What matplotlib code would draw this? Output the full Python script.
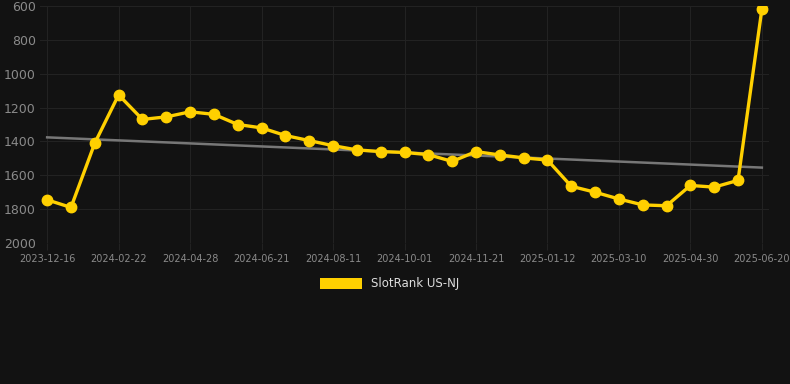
# SlotRank US-NJ rank history with trend line

import numpy as np
import matplotlib.pyplot as plt
from matplotlib.patches import Patch

tick_labels = ['2023-12-16', '2024-02-22', '2024-04-28', '2024-06-21', '2024-08-11',
               '2024-10-01', '2024-11-21', '2025-01-12', '2025-03-10', '2025-04-30',
               '2025-06-20']
ranks = [1745, 1790, 1410, 1125, 1270, 1255, 1225, 1240, 1300, 1320,
         1365, 1395, 1425, 1450, 1460, 1465, 1478, 1518, 1460, 1480,
         1497, 1510, 1665, 1700, 1740, 1775, 1780, 1660, 1670, 1630,
         620]
series_name = 'SlotRank US-NJ'

bg = '#121212'
gold = '#ffd000'

x = np.arange(len(ranks))
slope, icpt = np.polyfit(x, ranks, 1)
trend = slope * x + icpt

fig = plt.figure(figsize=(7.9, 3.84), dpi=100, facecolor=bg)
ax = fig.add_axes([40 / 790, 1 - 243 / 384, 729 / 790, 237 / 384])
ax.set_facecolor(bg)

ax.plot(x, trend, color='#777777', linewidth=1.8, zorder=2)
ax.plot(x, ranks, color=gold, linewidth=2.4, marker='o', markersize=7.5, zorder=3)

ax.set_ylim(2000, 600)
ax.set_yticks([600, 800, 1000, 1200, 1400, 1600, 1800, 2000])
ax.set_xlim(-0.3, 30.3)
ax.set_xticks(np.arange(0, len(ranks), 3))
ax.set_xticklabels(tick_labels)

ax.grid(True, color='#222222', linewidth=0.8)
ax.set_axisbelow(True)
for s in ax.spines.values():
    s.set_visible(False)
ax.tick_params(axis='y', length=0, labelsize=9, labelcolor='#8a8a8a', pad=3)
ax.tick_params(axis='x', length=5, color='#222222', labelsize=7, labelcolor='#8a8a8a', pad=3)

fig.legend([Patch(facecolor=gold)], [series_name], loc='center',
           bbox_to_anchor=(390 / 790, 1 - 284 / 384), frameon=False,
           labelcolor='#dddddd', fontsize=8.5, handlelength=3.5, handleheight=1.0)

fig.savefig('out.png', facecolor=bg)
